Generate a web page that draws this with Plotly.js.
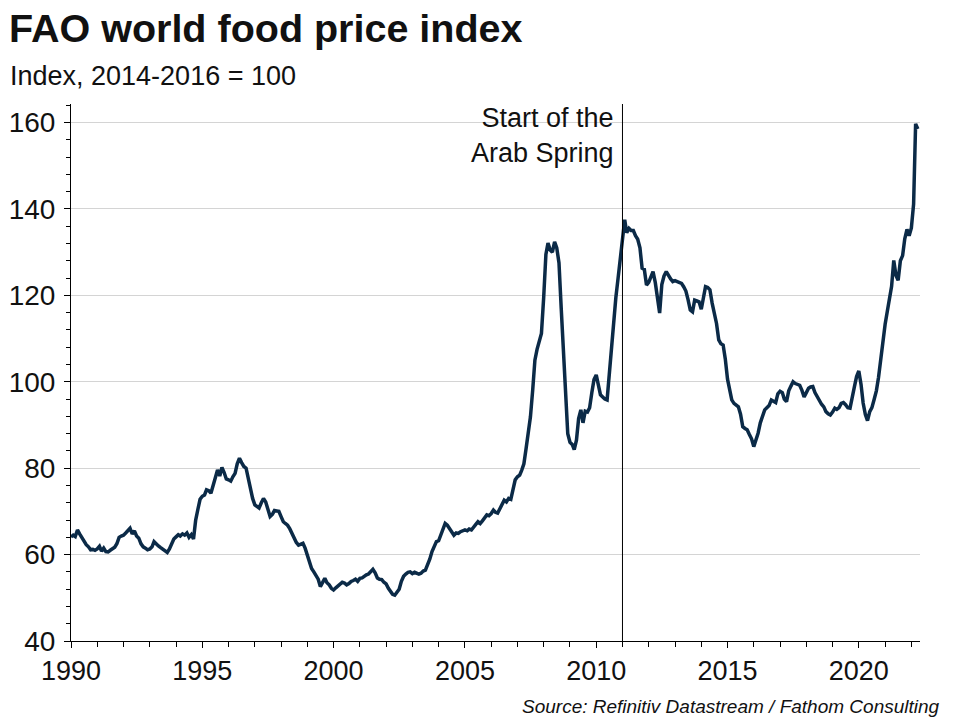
<!DOCTYPE html>
<html>
<head>
<meta charset="utf-8">
<script src="https://cdn.plot.ly/plotly-3.0.1.min.js"></script>
<style>
  html, body { margin: 0; padding: 0; background: #fff; }
  #chart { width: 960px; height: 720px; }
</style>
</head>
<body>
<div id="chart"></div>
<script>
// FAO Food Price Index, monthly, 2014-2016 = 100
const startYear = 1990;

const fpi1990s = [
  64.1, 64.5, 64.2, 65.7, 64.8, 64.0, 63.0, 62.3, 61.8, 61.1, 61.2, 61.0,
  61.3, 61.9, 60.8, 61.5, 60.7, 60.6, 61.0, 61.4, 61.7, 62.5, 64.0, 64.3,
  64.5, 65.0, 65.6, 66.1, 64.8, 65.5, 64.3, 63.8, 62.5, 61.8, 61.5, 61.1,
  61.3, 61.8, 63.0, 62.4, 62.0, 61.6, 61.2, 61.0, 60.5, 61.3, 62.6, 63.6,
  64.1, 64.6, 64.3, 64.8, 64.5, 65.0, 64.0, 64.6, 63.6, 68.0, 70.5, 72.8,
  73.5, 73.8, 75.0, 74.8, 74.2, 75.8, 78.0, 79.6, 78.2, 80.2, 79.0, 77.5,
  77.3, 77.0, 78.0, 78.8, 81.0, 82.3, 81.3, 80.4, 80.0, 77.5, 75.0, 73.0,
  71.5, 71.0, 70.8, 72.0, 73.0, 72.2, 70.5, 68.8, 69.3, 70.2, 70.1, 70.0,
  68.8, 67.6, 67.2, 66.8, 66.0, 64.8, 63.8, 62.8, 62.2, 62.4, 62.6, 61.5,
  60.0, 58.0, 56.8, 56.0, 55.3, 54.3, 52.6, 53.5, 54.5, 53.5, 53.0, 52.2
];

const fpi2000s = [
  51.8, 52.3, 52.8, 53.2, 53.6, 53.4, 53.0, 53.3, 53.8, 54.0, 54.3, 53.8,
  54.5, 54.6, 55.0, 55.3, 55.5, 56.0, 56.6, 55.8, 54.6, 54.3, 54.2, 53.6,
  53.2, 52.2, 51.5, 50.8, 50.6, 51.2, 52.0, 53.8, 55.0, 55.5, 55.9, 56.0,
  55.6, 55.9, 55.8, 55.5, 55.7, 56.2, 56.4, 57.5, 59.0, 60.7, 61.8, 63.0,
  63.2, 64.5, 66.0, 67.2, 66.8, 66.0, 65.0, 64.5, 65.0, 64.9, 65.3, 65.5,
  65.7, 65.5, 65.9, 65.7, 66.5, 67.0, 67.6, 67.2, 67.8, 68.5, 69.2, 69.0,
  69.5, 70.3, 69.8, 69.6, 70.5, 71.5, 72.6, 72.2, 73.0, 72.8, 75.5, 77.3,
  78.0, 78.4, 79.5, 81.0, 84.5, 88.0, 91.9, 98.0, 105.0, 107.5, 109.5, 111.2,
  119.5, 129.5, 132.1, 130.5, 130.0, 132.4, 131.0, 127.5, 117.0, 108.0, 99.0, 88.0,
  86.0, 85.5, 84.3, 86.5, 91.5, 93.5, 90.5, 93.2, 93.0, 94.0, 97.5, 100.5
];

const fpi2010s = [
  101.6, 98.8, 97.0, 96.5, 96.0, 95.8, 102.0, 108.0, 113.5, 119.5, 124.0, 128.5,
  132.5, 137.5, 134.5, 135.5, 135.0, 135.0, 133.8, 133.0, 131.0, 126.3, 126.0, 122.4,
  123.0, 124.5, 125.5, 123.0, 119.5, 115.9, 122.5, 124.5, 125.5, 124.5, 123.8, 123.2,
  123.4, 123.2, 123.0, 122.8, 122.0, 121.0, 119.0, 116.6, 116.2, 118.9, 118.7, 118.5,
  116.8, 119.5, 122.0, 121.8, 121.3, 118.2, 116.0, 113.5, 109.7, 108.8, 108.5, 105.3,
  100.6, 98.0, 95.8, 95.0, 94.6, 94.2, 92.5, 89.6, 89.2, 88.9, 87.8, 86.8,
  85.0, 86.5, 88.1, 90.5, 92.3, 93.5, 94.0, 94.5, 95.8, 95.5, 95.2, 97.2,
  97.8, 97.5, 96.0, 95.4, 97.9, 99.0, 100.0, 99.6, 99.4, 99.2, 98.0, 96.5,
  97.5, 98.5, 98.8, 98.9, 97.5, 96.5, 95.4, 94.8, 94.2, 93.1, 92.6, 92.3,
  93.0, 93.9, 93.6, 94.0, 95.0, 95.2, 94.7, 94.0, 93.9, 96.0, 98.9, 101.2
];

const fpi2020s = [
  102.5, 99.4, 95.1, 92.4, 91.0, 93.1, 94.0, 95.9, 97.9, 101.0, 105.5, 108.6,
  113.3, 116.4, 119.2, 122.1, 128.1, 124.6, 123.5, 128.0, 129.2, 133.1, 135.3, 133.8,
  135.6, 141.1, 159.7, 158.5
];

const tickYears = ['1990', '1995', '2000', '2005', '2010', '2015', '2020'];
const eventDate = '2011-01-01';
const eventLabel = 'Start of the<br>Arab Spring';

const chartTitle = 'FAO world food price index';
const chartSubtitle = 'Index, 2014-2016 = 100';
const sourceText = 'Source: Refinitiv Datastream / Fathom Consulting';

const values = [].concat(fpi1990s, fpi2000s, fpi2010s, fpi2020s);
const dates = values.map((v, i) => {
  const y = startYear + Math.floor(i / 12);
  const m = (i % 12) + 1;
  return y + '-' + String(m).padStart(2, '0') + '-01';
});

const FONT = 'Liberation Sans, Arial, sans-serif';

const trace = {
  type: 'scatter',
  mode: 'lines',
  x: dates,
  y: values,
  line: { color: '#0b2a47', width: 3.5 },
  hoverinfo: 'x+y'
};

const layout = {
  width: 960,
  height: 720,
  paper_bgcolor: '#ffffff',
  plot_bgcolor: '#ffffff',
  margin: { l: 71, r: 40, t: 104, b: 79 },
  showlegend: false,
  font: { family: FONT, color: '#111111', size: 27 },
  title: {
    text: '<b>' + chartTitle + '</b>',
    font: { family: FONT, size: 39.5, color: '#111111' },
    xref: 'container', yref: 'container',
    x: 9 / 960, xanchor: 'left',
    y: 1 - 28 / 720, yanchor: 'middle'
  },
  xaxis: {
    type: 'date',
    range: ['1990-01-01', '2022-05-01'],
    tickvals: tickYears.map(y => y + '-01-01'),
    ticktext: tickYears,
    ticks: 'outside',
    ticklen: 6,
    tickwidth: 1,
    tickcolor: '#000',
    minor: { dtick: 'M12', tick0: '1990-01-01', ticks: 'outside', ticklen: 5, tickcolor: '#000', showgrid: false },
    showline: true,
    linecolor: '#000',
    linewidth: 1,
    showgrid: false,
    zeroline: false,
    tickfont: { family: FONT, size: 27, color: '#111111' }
  },
  yaxis: {
    range: [40, 164.3],
    tick0: 40,
    dtick: 20,
    ticks: 'outside',
    ticklen: 6,
    tickcolor: '#000',
    ticklabelstandoff: 3,
    minor: { dtick: 4, tick0: 40, ticks: 'outside', ticklen: 4, tickcolor: '#000', showgrid: false },
    showline: true,
    linecolor: '#000',
    linewidth: 1,
    showgrid: true,
    gridcolor: '#d4d4d4',
    gridwidth: 1,
    zeroline: false,
    tickfont: { family: FONT, size: 28, color: '#111111' }
  },
  shapes: [{
    type: 'line',
    xref: 'x', yref: 'paper',
    x0: eventDate, x1: eventDate,
    y0: 0, y1: 1,
    line: { color: '#000', width: 1 }
  }],
  annotations: [
    {
      text: chartSubtitle,
      xref: 'paper', yref: 'paper',
      x: -63 / 849, xanchor: 'left',
      y: 1 + 28 / 537, yanchor: 'middle',
      showarrow: false,
      font: { family: FONT, size: 27, color: '#111111' }
    },
    {
      text: eventLabel,
      xref: 'x', yref: 'paper',
      x: eventDate, xanchor: 'right', xshift: -6,
      y: 1, yanchor: 'top', yshift: 3,
      align: 'right',
      showarrow: false,
      font: { family: FONT, size: 27, color: '#111111' }
    },
    {
      text: '<i>' + sourceText + '</i>',
      xref: 'paper', yref: 'paper',
      x: 1 + 22 / 849, xanchor: 'right',
      y: -65 / 537, yanchor: 'middle',
      showarrow: false,
      font: { family: FONT, size: 19, color: '#111111' }
    }
  ]
};

Plotly.newPlot('chart', [trace], layout, { staticPlot: true, displayModeBar: false });
</script>
</body>
</html>
